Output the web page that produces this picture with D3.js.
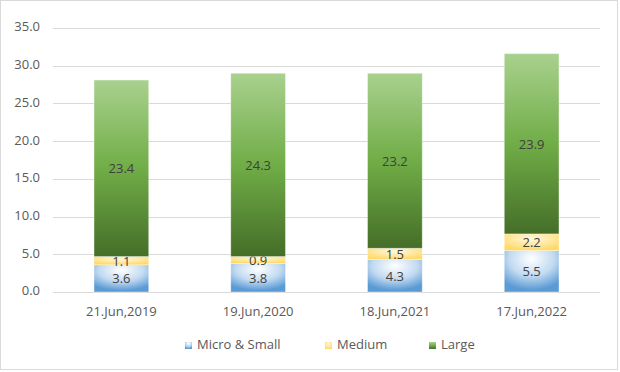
<!DOCTYPE html>
<html>
<head>
<meta charset="utf-8">
<script src="https://cdn.jsdelivr.net/npm/d3@7"></script>
<style>
  body { margin: 0; background: #fff; }
  svg { display: block; font-family: "Open Sans", "Noto Sans", sans-serif; }
</style>
</head>
<body>
<div id="chart"></div>
<script>
// chart data
const categories = ['21.Jun,2019', '19.Jun,2020', '18.Jun,2021', '17.Jun,2022'];
const seriesNames = ['Micro & Small', 'Medium', 'Large'];
const microSmall = [3.6, 3.8, 4.3, 5.5];
const medium = [1.1, 0.9, 1.5, 2.2];
const large = [23.4, 24.3, 23.2, 23.9];
const yTicks = [0, 5, 10, 15, 20, 25, 30, 35];

const width = 620;
const height = 372;
const margin = { top: 28, right: 20, bottom: 80, left: 53 };
const fontSize = 13;

const svg = d3.select('#chart')
  .append('svg')
  .attr('width', width)
  .attr('height', height);

// outer frame
svg.append('rect')
  .attr('x', 0.5).attr('y', 0.5)
  .attr('width', width - 3).attr('height', height - 3)
  .attr('fill', '#fff')
  .attr('stroke', '#d9d9d9');

const defs = svg.append('defs');

const blue = defs.append('radialGradient')
  .attr('id', 'gBlue')
  .attr('cx', '50%').attr('cy', '20%').attr('r', '75%');
blue.append('stop').attr('offset', '0%').attr('stop-color', '#ffffff');
blue.append('stop').attr('offset', '55%').attr('stop-color', '#c2daf1');
blue.append('stop').attr('offset', '100%').attr('stop-color', '#5b9bd5');

const yellow = defs.append('radialGradient')
  .attr('id', 'gYellow')
  .attr('cx', '50%').attr('cy', '30%').attr('r', '70%');
yellow.append('stop').attr('offset', '0%').attr('stop-color', '#fff8e0');
yellow.append('stop').attr('offset', '100%').attr('stop-color', '#ffd966');

const green = defs.append('linearGradient')
  .attr('id', 'gGreen')
  .attr('x1', 0).attr('y1', 0).attr('x2', 0).attr('y2', 1);
green.append('stop').attr('offset', '0%').attr('stop-color', '#a9d18e');
green.append('stop').attr('offset', '50%').attr('stop-color', '#70ad47');
green.append('stop').attr('offset', '100%').attr('stop-color', '#456e28');

const fills = ['url(#gBlue)', 'url(#gYellow)', 'url(#gGreen)'];

const x = d3.scaleBand()
  .domain(categories)
  .range([margin.left, width - margin.right])
  .paddingInner(0.6)
  .paddingOuter(0.3);

const y = d3.scaleLinear()
  .domain([0, 35])
  .range([height - margin.bottom, margin.top]);

// gridlines
svg.append('g')
  .selectAll('line')
  .data(yTicks)
  .enter()
  .append('line')
  .attr('x1', margin.left)
  .attr('x2', width - margin.right)
  .attr('y1', d => Math.round(y(d)) + 0.5)
  .attr('y2', d => Math.round(y(d)) + 0.5)
  .attr('stroke', '#d9d9d9')
  .attr('stroke-width', 1.2);

// y axis labels
svg.append('g')
  .selectAll('text')
  .data(yTicks)
  .enter()
  .append('text')
  .attr('x', 40)
  .attr('y', d => y(d))
  .attr('text-anchor', 'end')
  .attr('dominant-baseline', 'middle')
  .attr('fill', '#595959')
  .attr('font-size', fontSize)
  .text(d => d3.format('.1f')(d));

// stack
const rows = categories.map((c, i) => ({
  cat: c, 'Micro & Small': microSmall[i], 'Medium': medium[i], 'Large': large[i]
}));
const stacked = d3.stack().keys(seriesNames)(rows);

stacked.forEach((layer, si) => {
  const g = svg.append('g');
  g.selectAll('rect')
    .data(layer)
    .enter()
    .append('rect')
    .attr('x', d => x(d.data.cat))
    .attr('y', d => y(d[1]))
    .attr('width', x.bandwidth())
    .attr('height', d => y(d[0]) - y(d[1]))
    .attr('fill', fills[si])
    .attr('stroke', 'rgba(255,255,255,0.45)')
    .attr('stroke-width', 0.8);

  g.selectAll('text')
    .data(layer)
    .enter()
    .append('text')
    .attr('x', d => x(d.data.cat) + x.bandwidth() / 2)
    .attr('y', d => (y(d[0]) + y(d[1])) / 2)
    .attr('text-anchor', 'middle')
    .attr('dominant-baseline', 'central')
    .attr('fill', '#404040')
    .attr('font-size', fontSize)
    .text(d => d3.format('.1f')(d[1] - d[0]));
});

// category labels
svg.append('g')
  .selectAll('text')
  .data(categories)
  .enter()
  .append('text')
  .attr('x', d => x(d) + x.bandwidth() / 2)
  .attr('y', 313)
  .attr('text-anchor', 'middle')
  .attr('dominant-baseline', 'middle')
  .attr('fill', '#595959')
  .attr('font-size', fontSize)
  .text(d => d);

// legend
const legendX = [185, 325, 429];
const legend = svg.append('g');
seriesNames.forEach((name, i) => {
  legend.append('rect')
    .attr('x', legendX[i])
    .attr('y', 342)
    .attr('width', 7)
    .attr('height', 7)
    .attr('fill', fills[i]);
  legend.append('text')
    .attr('x', legendX[i] + 12)
    .attr('y', 346)
    .attr('dominant-baseline', 'middle')
    .attr('fill', '#595959')
    .attr('font-size', fontSize)
    .text(name);
});
</script>
</body>
</html>
